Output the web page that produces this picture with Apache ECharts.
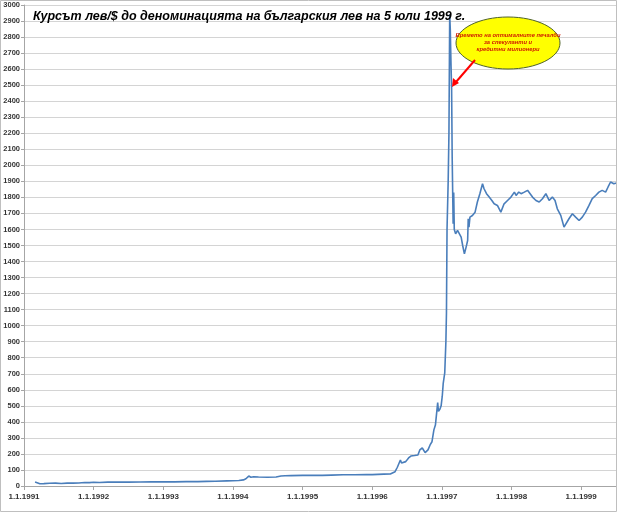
<!DOCTYPE html>
<html><head><meta charset="utf-8">
<script src="https://cdn.jsdelivr.net/npm/echarts@6/dist/echarts.min.js"></script>
<style>html,body{margin:0;padding:0;background:#fff}#c{width:617px;height:512px}</style>
</head><body><div id="c"></div>
<script>
const titleText = 'Курсът лев/$ до деноминацията на българския лев на 5 юли 1999 г.';
const noteLines = ['Времето на оптималните печалби', 'за спекуланти и', 'кредитни милионери'];
const yearTicks = [1991, 1992, 1993, 1994, 1995, 1996, 1997, 1998, 1999];

const dates = [
 '1991-02-28','1991-03-10','1991-03-25','1991-04-15','1991-05-15','1991-06-15','1991-07-15','1991-08-15','1991-09-15','1991-10-15','1991-11-15','1991-11-25','1991-12-10',
 '1992-01-01','1992-02-01','1992-03-15','1992-05-01','1992-07-01','1992-09-01','1992-11-01',
 '1993-01-01','1993-03-01','1993-05-01','1993-07-01','1993-08-15','1993-10-01','1993-12-01',
 '1994-01-01','1994-02-01','1994-02-25','1994-03-10','1994-03-25','1994-04-05','1994-04-20','1994-05-15','1994-07-01','1994-08-15','1994-09-10','1994-10-01','1994-11-01',
 '1995-01-01','1995-03-01','1995-04-15','1995-06-01','1995-08-01','1995-10-01','1995-12-01',
 '1996-01-01','1996-03-01','1996-04-05','1996-04-12','1996-04-30','1996-05-12','1996-05-20','1996-05-28','1996-06-03','1996-06-10','1996-06-25','1996-07-10','1996-07-22','1996-08-10','1996-08-28','1996-09-07','1996-09-20','1996-10-05','1996-10-20','1996-10-31','1996-11-10','1996-11-20','1996-11-28','1996-12-10','1996-12-14','1996-12-22','1996-12-28',
 '1997-01-03','1997-01-08','1997-01-16','1997-01-22','1997-01-25','1997-01-28','1997-02-03','1997-02-07','1997-02-11','1997-02-14','1997-02-18','1997-02-21','1997-02-24','1997-02-27','1997-03-01','1997-03-04','1997-03-07','1997-03-14','1997-03-24','1997-04-03','1997-04-12','1997-04-20','1997-04-29','1997-05-08','1997-05-16','1997-05-19','1997-05-23','1997-05-28','1997-06-10','1997-06-24','1997-07-06','1997-07-19','1997-08-02','1997-08-10','1997-08-23','1997-09-06','1997-09-20','1997-10-02','1997-10-19','1997-11-06','1997-11-23','1997-12-11','1997-12-29',
 '1998-01-16','1998-01-25','1998-02-08','1998-02-20','1998-03-09','1998-03-26','1998-04-04','1998-04-21','1998-05-09','1998-05-26','1998-06-12','1998-06-30','1998-07-17','1998-08-03','1998-08-17','1998-08-29','1998-09-16','1998-10-03','1998-10-12','1998-10-29','1998-11-16','1998-12-03','1998-12-21',
 '1999-01-07','1999-01-24','1999-02-11','1999-02-28','1999-03-18','1999-04-04','1999-04-21','1999-05-09','1999-05-22','1999-06-04','1999-06-21','1999-07-05'
];
const rates = [
 25,18,14,15,17,18,16,18,18,19,22,26,21,
 23,22,24,24,24,25,26,
 26,26,27,27,29,30,32,
 33,34,38,45,62,55,58,56,55,56,62,64,65,
 66,67,66,68,70,70,71,
 71,74,75,76,89,117,125,162,143,135,152,175,187,190,193,225,237,208,225,256,276,350,380,520,465,480,500,
 560,640,705,900,1080,1600,1900,2200,2940,2850,2620,2480,2050,1800,1635,1830,1600,1573,1594,1583,1552,1500,1448,1490,1531,1667,1615,1677,1687,1708,1771,1823,1885,1854,1823,1802,1781,1760,1750,1708,1760,1781,1802,
 1833,1812,1833,1823,1833,1844,1848,1802,1781,1771,1792,1823,1781,1802,1781,1729,1688,1615,1625,1667,1698,1677,1656,
 1677,1708,1750,1792,1812,1833,1844,1833,1865,1896,1885,1890
];

function toYear(s) {
  const [y, m, d] = s.split('-').map(Number);
  const a = Date.UTC(y, 0, 1), b = Date.UTC(y + 1, 0, 1);
  return y + (Date.UTC(y, m - 1, d) - a) / (b - a);
}
const seriesData = dates.map((d, i) => [toYear(d), rates[i]]);

const chart = echarts.init(document.getElementById('c'), null, {renderer: 'canvas'});
const noteFont = 'italic bold 5.8px "Liberation Sans"';
chart.setOption({
  animation: false,
  backgroundColor: '#ffffff',
  grid: {left: 24, right: 1, top: 5, bottom: 26},
  title: {
    text: titleText, left: 28, top: 5,
    textStyle: {fontFamily: 'Liberation Sans', fontSize: 12.5, fontWeight: 'bold', fontStyle: 'italic', color: '#000'}
  },
  xAxis: {
    type: 'value', min: yearTicks[0], max: 1999.5, interval: 1,
    axisLine: {show: true, lineStyle: {color: '#a6a6a6', width: 1}},
    axisTick: {show: true, length: 4, lineStyle: {color: '#a6a6a6'}},
    splitLine: {show: false},
    axisLabel: {
      formatter: v => yearTicks.includes(v) ? '1.1.' + v : '',
      showMaxLabel: false,
      fontFamily: 'Liberation Sans', fontSize: 8, fontWeight: 'bold', color: '#333', margin: 7
    }
  },
  yAxis: {
    type: 'value', min: 0, max: 3000, interval: 100,
    axisLine: {show: true, lineStyle: {color: '#a6a6a6', width: 1}},
    axisTick: {show: true, length: 3, lineStyle: {color: '#a6a6a6'}},
    splitLine: {show: true, lineStyle: {color: '#d4d4d4', width: 1}},
    axisLabel: {formatter: v => String(v), fontFamily: 'Liberation Sans', fontSize: 7.5, fontWeight: 'bold', color: '#333', margin: 4}
  },
  series: [{
    type: 'line', data: seriesData, showSymbol: false, symbol: 'none',
    lineStyle: {color: '#4a7ebb', width: 1.6}
  }],
  graphic: [
    {type: 'rect', shape: {x: 0.5, y: 0.5, width: 616, height: 511}, style: {fill: 'none', stroke: '#bfbfbf', lineWidth: 1}, z: 100},
    {type: 'ellipse', shape: {cx: 508, cy: 43, rx: 52, ry: 26}, style: {fill: '#ffff00', stroke: '#4f6228', lineWidth: 1}, z: 100},
    {type: 'text', x: 508, y: 35, style: {text: noteLines[0], fill: '#d01c00', font: noteFont, align: 'center', verticalAlign: 'middle'}, z: 101},
    {type: 'text', x: 508, y: 42, style: {text: noteLines[1], fill: '#d01c00', font: noteFont, align: 'center', verticalAlign: 'middle'}, z: 101},
    {type: 'text', x: 508, y: 49, style: {text: noteLines[2], fill: '#d01c00', font: noteFont, align: 'center', verticalAlign: 'middle'}, z: 101},
    {type: 'line', shape: {x1: 475, y1: 60, x2: 456, y2: 82}, style: {stroke: '#ff0000', lineWidth: 2}, z: 101},
    {type: 'polygon', shape: {points: [[452, 87], [453, 78], [459, 83]]}, style: {fill: '#ff0000'}, z: 101}
  ]
});
</script></body></html>
